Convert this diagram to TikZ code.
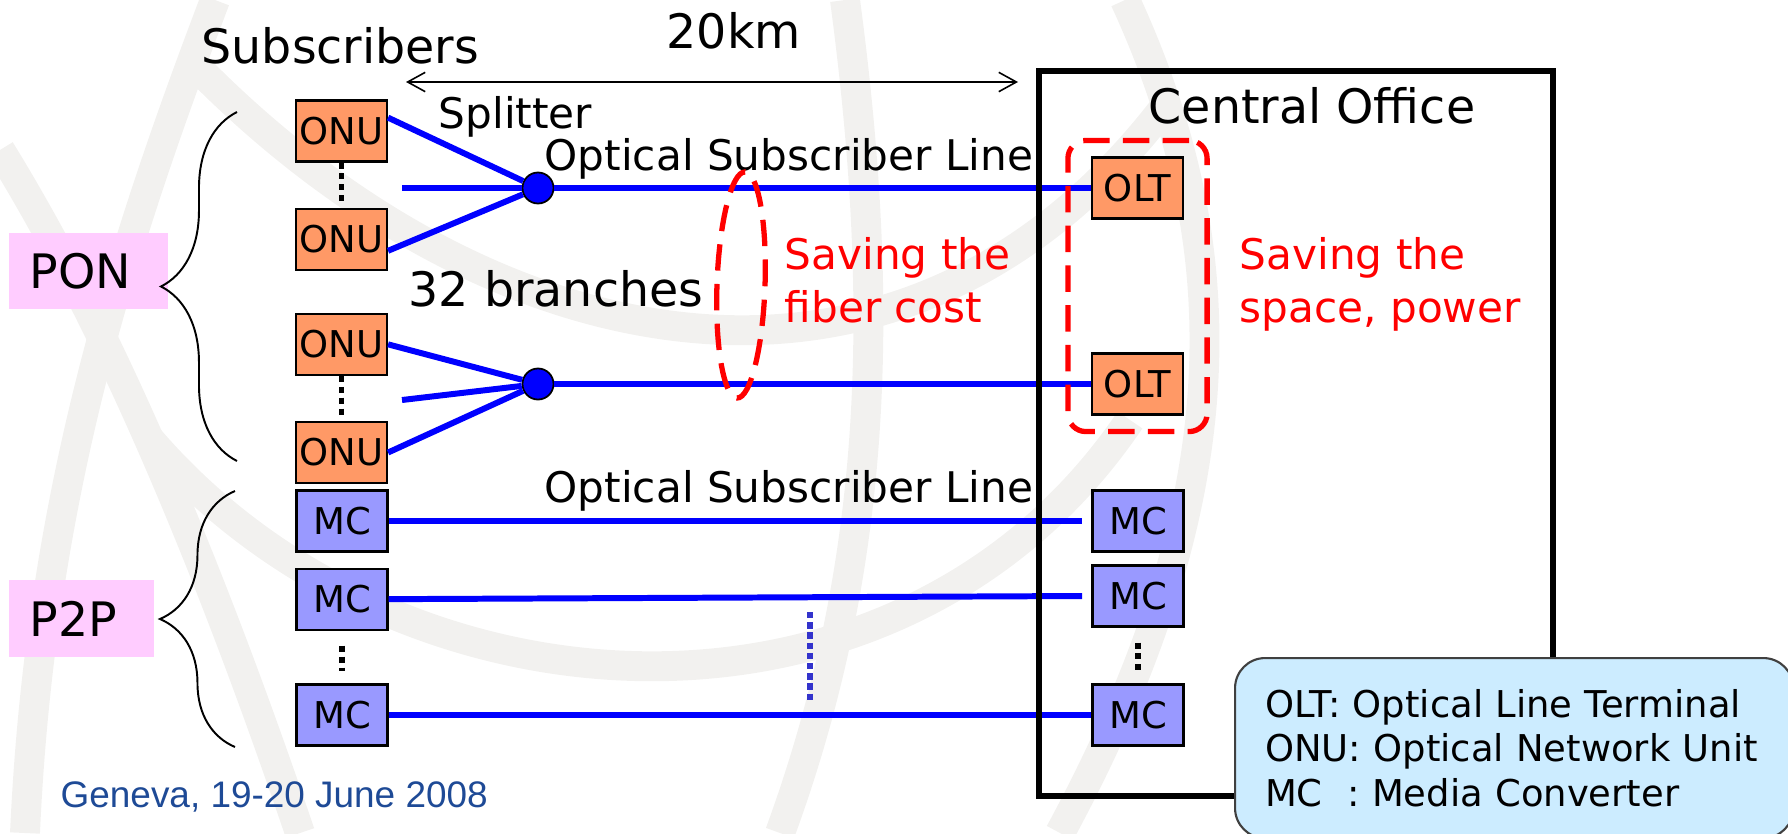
\documentclass[tikz,border=0pt]{standalone}
\usepackage{fontspec}
\setmainfont{DejaVu Sans}
\newfontfamily\genevafont{Liberation Sans}
\usepackage{tikz}
\usetikzlibrary{arrows.meta,positioning,calc,fit,shapes.geometric,decorations.pathreplacing}

\definecolor{onuorange}{RGB}{255,153,102}
\definecolor{mcviolet}{RGB}{153,153,255}
\definecolor{tagpink}{RGB}{255,204,255}
\definecolor{fibreblue}{RGB}{0,0,255}
\definecolor{legendblue}{RGB}{204,236,255}
\definecolor{savered}{RGB}{255,0,0}
\definecolor{genevablue}{RGB}{30,74,150}
\definecolor{watermark}{RGB}{242,241,239}
\definecolor{dotblue}{RGB}{51,51,204}

\newcommand{\bigtxt}{\fontsize{13.5pt}{16pt}\selectfont}
\newcommand{\midtxt}{\fontsize{12pt}{14.8pt}\selectfont}
\newcommand{\smalltxt}{\fontsize{10.5pt}{12.66pt}\selectfont}

\begin{document}
\begin{tikzpicture}[
  x=0.01cm, y=-0.01cm,
  >={Straight Barb[length=5pt,width=5.5pt]},
  unit/.style={draw, line width=0.6pt, minimum width=0.91cm, minimum height=0.61cm, inner sep=0pt, font=\smalltxt},
  onu/.style={unit, fill=onuorange},
  mc/.style={unit, fill=mcviolet},
  tag/.style={fill=tagpink, anchor=west, inner xsep=0.21cm, minimum height=0.76cm, align=left, font=\bigtxt},
  fibre/.style={draw=fibreblue, line width=1.7pt},
  splitter/.style={circle, draw, fill=fibreblue, minimum size=0.31cm, inner sep=0pt, line width=0.5pt},
  dots/.style={line width=1.7pt, dash pattern=on 1.7pt off 1.4pt},
  saving/.style={draw=savered, line width=1.5pt, dash pattern=on 7.5pt off 3.8pt},
  lbl/.style={anchor=base west, inner sep=0pt},
  curly/.style={decorate, decoration={brace, amplitude=#1}, line width=0.55pt},
  wm/.style={draw=watermark, line width=8.5pt}
]
\useasboundingbox (0,0) rectangle (1788,833);

% background globe
\draw[wm] (190,60) .. controls (480,360) and (900,460) .. (1170,100);
\draw[wm] (1125,0) .. controls (1240,250) and (1240,500) .. (1060,833);
\draw[wm] (845,0) .. controls (885,300) and (880,560) .. (780,833);
\draw[wm] (215,0) .. controls (120,250) and (40,500) .. (25,833);
\draw[wm] (0,150) .. controls (80,280) and (180,480) .. (300,833);
\draw[wm] (150,440) .. controls (400,730) and (900,760) .. (1130,420);

% subscriber side
\node[onu] (onu1) at (341.5,131) {ONU};
\node[onu, below=0.45cm of onu1] (onu2) {ONU};
\node[onu, below=0.42cm of onu2] (onu3) {ONU};
\node[onu, below=0.45cm of onu3] (onu4) {ONU};
\node[mc] (mcl1) at (342,521) {MC};
\node[mc, below=0.15cm of mcl1] (mcl2) {MC};
\node[mc] (mcl3) at (342,715) {MC};

\node[tag, text width=1.17cm] (pon) at (8,271) {PON};
\node[tag, text width=1.03cm] (p2p) at (8,618.5) {P2P};
\draw[curly=0.76cm] (237,461) -- (237,112);
\draw[curly=0.75cm] (235,747) -- (235,491);

% central office side
\node[onu] (olt1) at (1137.5,188) {OLT};
\node[onu] (olt2) at (1137.5,384) {OLT};
\node[mc] (mcr1) at (1138,521) {MC};
\node[mc] (mcr2) at (1138,596) {MC};
\node[mc] (mcr3) at (1138,715) {MC};

% fibres
\node[splitter] (sp1) at (538,188) {};
\node[splitter] (sp2) at (538,384) {};
\coordinate (stub1) at (402,188);
\coordinate (stub2) at (402,400);
\coordinate (mcend1) at (1082,521);
\coordinate (mcend2) at (1082,596);
\draw[fibre] (onu1.16) -- (sp1);
\draw[fibre] (stub1) -- (sp1);
\draw[fibre] (onu2.-14) -- (sp1);
\draw[fibre] (onu3.east) -- (sp2);
\draw[fibre] (stub2) -- (sp2);
\draw[fibre] (onu4.east) -- (sp2);
\draw[fibre] (sp1) -- (olt1.west);
\draw[fibre] (sp2) -- (olt2.west);
\draw[fibre] (mcl1.east) -- (mcend1);
\draw[fibre] (mcl2.east) -- (mcend2);
\draw[fibre] (mcl3.east) -- (mcr3.west);

\draw[dots, shorten >=0.06cm] (onu1.south) -- (onu2.north);
\draw[dots, shorten >=0.06cm] (onu3.south) -- (onu4.north);
\draw[dots, shorten <=0.15cm, shorten >=0.12cm] (mcl2.south) -- (mcl3.north);
\draw[dots, shorten <=0.15cm, shorten >=0.12cm] (mcr2.south) -- (mcr3.north);
\coordinate (vd1) at (810,612);
\coordinate (vd2) at (810,701);
\draw[dotblue, line width=1.5pt, dash pattern=on 1.8pt off 1.1pt] (vd1) -- (vd2);

\node[draw, line width=1.7pt, minimum width=5.14cm, minimum height=7.25cm, anchor=north west, inner sep=0pt] (co) at (1036,68) {};

% labels
\coordinate (kmL) at (406,82);
\coordinate (kmR) at (1018,82);
\draw[<->, line width=0.45pt] (kmL) -- (kmR);
\node[lbl, font=\bigtxt] (subs) at (201,63) {Subscribers};
\node[lbl, font=\bigtxt] (dist) at (666,48) {20km};
\node[lbl, font=\midtxt] (splitlbl) at (438,128) {Splitter};
\node[lbl, font=\midtxt] (osl1) at (544,170) {Optical Subscriber Line};
\node[lbl, font=\bigtxt] (branches) at (408,306) {32 branches};
\node[lbl, font=\midtxt] (osl2) at (544,502) {Optical Subscriber Line};
\node[lbl, font=\bigtxt] (colbl) at (1148,123) {Central Office};

% savings
\node[saving, ellipse, minimum width=0.48cm, minimum height=2.26cm, inner sep=0pt, rotate=-2] (fibresave) at (741,285) {};
\node[saving, rounded corners=0.18cm, fit=(olt1)(olt2), inner xsep=0.23cm, inner ysep=0.16cm] (oltsave) {};
\node[lbl, font=\midtxt, text=savered, align=left] (savefibre) at (784,322) {Saving the\\fiber cost};
\node[lbl, font=\midtxt, text=savered, align=left] (savespace) at (1239,322) {Saving the\\space, power};

\node[draw=black!75, fill=legendblue, rounded corners=0.3cm, line width=0.6pt, anchor=north west,
  minimum width=5.58cm, minimum height=1.8cm, inner xsep=0.3cm, text width=4.98cm, align=left, font=\smalltxt] (legend) at (1234,657)
  {OLT:\ Optical Line Terminal\\ONU:\ Optical Network Unit\\MC\ \ :\ Media Converter};

\node[lbl, font=\genevafont\smalltxt, text=genevablue] (venue) at (60,807) {Geneva, 19-20 June 2008};
\end{tikzpicture}
\end{document}
